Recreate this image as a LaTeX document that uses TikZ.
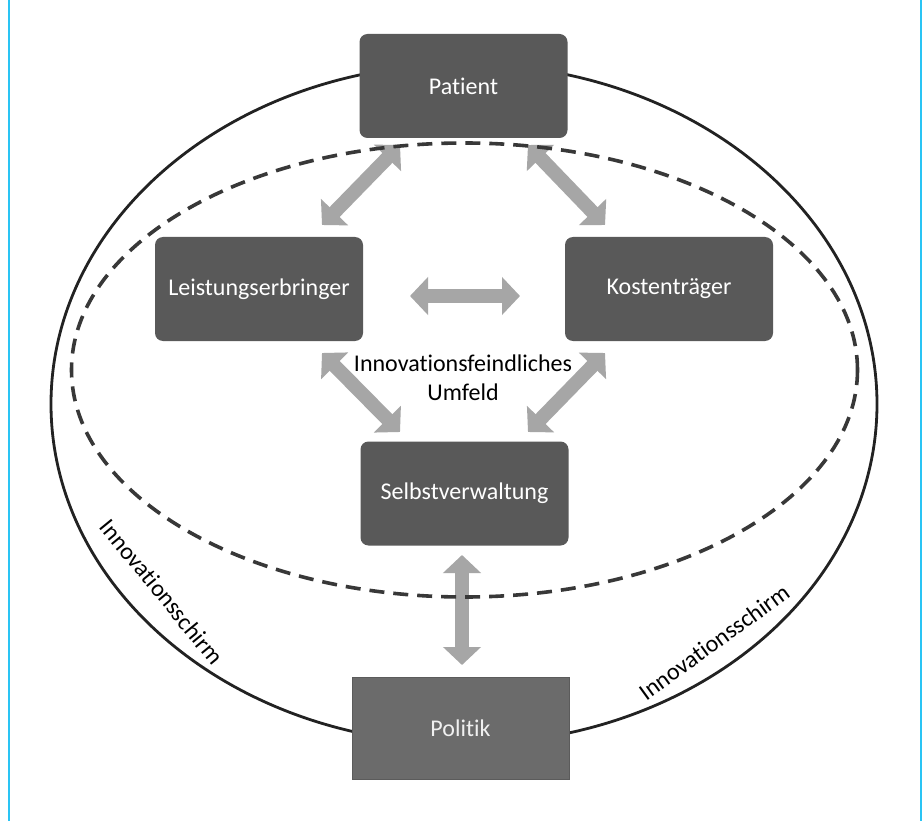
\documentclass[tikz,border=0pt]{standalone}
\usepackage{fontspec}
\setmainfont{Carlito}[Ligatures={NoCommon,NoContextual}]
\usetikzlibrary{arrows.meta}
\definecolor{boxgray}{HTML}{595959}
\definecolor{polgray}{HTML}{6B6B6B}
\definecolor{arrowgray}{HTML}{A6A6A6}
\definecolor{edgeblue}{HTML}{2AC4F4}
\definecolor{linegray}{HTML}{222222}
\tikzset{
  box/.style={fill=boxgray, rounded corners=8pt, minimum width=208pt, minimum height=104pt,
    text=white, font=\fontsize{24}{29}\selectfont, inner sep=0pt},
  polbox/.style={fill=polgray, draw=polgray!85!black, line width=0.8pt, minimum width=217pt, minimum height=102pt,
    text=white!94!black, font=\fontsize{24}{29}\selectfont, inner sep=0pt},
  dblarrow/.style={draw=arrowgray, line width=14pt,
    {Triangle[length=18pt,width=37pt]}-{Triangle[length=18pt,width=37pt]}},
  outerline/.style={draw=linegray, line width=2.8pt},
  dashline/.style={draw=linegray!90!white, line width=3.6pt, dash pattern=on 15pt off 9pt},
  lbl/.style={font=\fontsize{24}{29}\selectfont, text=black, inner sep=0pt},
  edgeline/.style={draw=edgeblue, line width=2pt}
}
\begin{document}
\begin{tikzpicture}[x=1pt,y=1pt]
\useasboundingbox (0,0) rectangle (924,-821);
\fill[white] (0,0) rectangle (924,-821);
\coordinate (eL1) at (8.5,0); \coordinate (eL2) at (8.5,-821);
\coordinate (eR1) at (920.5,0); \coordinate (eR2) at (920.5,-821);
\draw[edgeline] (eL1) -- (eL2);
\draw[edgeline] (eR1) -- (eR2);
% outer ellipse
\coordinate (oc) at (464,-404);
\draw[outerline] (oc) ellipse [x radius=413, y radius=340];
% arrows
\coordinate (pl1) at (400,-145); \coordinate (pl2) at (322,-225);
\coordinate (pk1) at (528,-145); \coordinate (pk2) at (605,-225);
\coordinate (lk1) at (410,-296); \coordinate (lk2) at (520,-296);
\coordinate (ls1) at (322,-353); \coordinate (ls2) at (400,-432);
\coordinate (ks1) at (605,-353); \coordinate (ks2) at (528,-432);
\coordinate (sp1) at (462,-555); \coordinate (sp2) at (462,-665);
\draw[dblarrow] (pl1) -- (pl2);
\draw[dblarrow] (pk1) -- (pk2);
\draw[dblarrow] (lk1) -- (lk2);
\draw[dblarrow] (ls1) -- (ls2);
\draw[dblarrow] (ks1) -- (ks2);
\draw[dblarrow] (sp1) -- (sp2);
% dashed ellipse
\coordinate (dc) at (464.5,-370);
\draw[dashline] (dc) ellipse [x radius=393, y radius=227];
% boxes
\node[box] (patient) at (463.5,-86) {Patient};
\node[box] (leist) at (259,-289) {Leistungserbringer};
\node[box] (kosten) at (669,-289) {Kostenträger};
\node[box] (selbst) at (464.5,-493.5) {Selbstverwaltung};
\node[polbox] (politik) at (460.5,-728) {Politik};
% labels
\node[lbl, align=center] (umfeld) at (463,-378) {Innovationsfeindliches\\Umfeld};
\node[lbl, rotate=-50.7] (schirmL) at (162,-592) {Innovationsschirm};
\node[lbl, rotate=35.9] (schirmR) at (714,-642) {Innovationsschirm};
\end{tikzpicture}
\end{document}
